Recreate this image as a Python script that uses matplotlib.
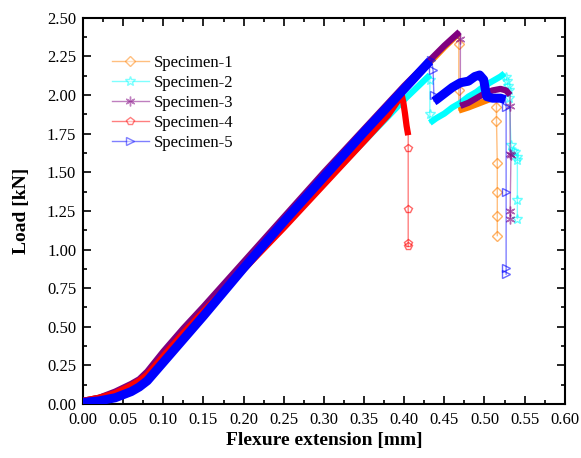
import numpy as np
import matplotlib
matplotlib.use('Agg')
import matplotlib.pyplot as plt
from matplotlib.lines import Line2D
from matplotlib.ticker import MultipleLocator, FormatStrFormatter

plt.rcParams['font.family'] = ['Liberation Serif', 'DejaVu Serif']
plt.rcParams['mathtext.fontset'] = 'stix'

labels = ['Specimen-1', 'Specimen-2', 'Specimen-3', 'Specimen-4', 'Specimen-5']

# Specimen-1
s1_rise_x = [0, 0.02, 0.04, 0.06, 0.07, 0.08, 0.10, 0.125, 0.15, 0.2, 0.25, 0.3, 0.35, 0.4, 0.45, 0.468]
s1_rise_y = [0.02, 0.04, 0.07, 0.12, 0.15, 0.20, 0.33, 0.48, 0.62, 0.91, 1.19, 1.48, 1.76, 2.04, 2.31, 2.40]
s1_drop1_x = [0.468, 0.468]
s1_drop1_y = [2.33, 2.03]
s1_tail_x = [0.468, 0.48, 0.49, 0.50, 0.51, 0.515]
s1_tail_y = [1.90, 1.92, 1.94, 1.96, 1.98, 1.99]
s1_drop2_x = [0.515, 0.515, 0.516, 0.516, 0.516, 0.516]
s1_drop2_y = [1.92, 1.83, 1.56, 1.37, 1.22, 1.09]

# Specimen-2
s2_rise_x = [0, 0.02, 0.04, 0.06, 0.07, 0.08, 0.10, 0.125, 0.15, 0.2, 0.25, 0.3, 0.35, 0.4, 0.432]
s2_rise_y = [0.01, 0.03, 0.06, 0.11, 0.14, 0.19, 0.31, 0.46, 0.60, 0.88, 1.16, 1.43, 1.70, 1.97, 2.13]
s2_drop1_x = [0.432, 0.432]
s2_drop1_y = [2.10, 1.88]
s2_tail_x = [0.432, 0.44, 0.45, 0.46, 0.47, 0.48, 0.49, 0.50, 0.51, 0.52, 0.525]
s2_tail_y = [1.82, 1.85, 1.88, 1.92, 1.95, 1.99, 2.02, 2.06, 2.09, 2.12, 2.14]
s2_drop2_x = [0.527, 0.528, 0.529, 0.530, 0.531, 0.533, 0.535, 0.538, 0.541, 0.541, 0.541, 0.541]
s2_drop2_y = [2.12, 2.09, 2.06, 2.03, 1.98, 1.68, 1.64, 1.63, 1.60, 1.58, 1.32, 1.20]

# Specimen-3
s3_rise_x = [0, 0.02, 0.04, 0.06, 0.07, 0.08, 0.10, 0.125, 0.15, 0.2, 0.25, 0.3, 0.35, 0.4, 0.45, 0.469]
s3_rise_y = [0.02, 0.04, 0.08, 0.13, 0.16, 0.21, 0.34, 0.49, 0.63, 0.92, 1.21, 1.50, 1.78, 2.06, 2.32, 2.41]
s3_drop1_x = [0.470]
s3_drop1_y = [2.36]
s3_tail_x = [0.470, 0.48, 0.49, 0.50, 0.51, 0.52, 0.527, 0.532]
s3_tail_y = [1.93, 1.95, 1.98, 2.01, 2.03, 2.04, 2.03, 2.00]
s3_drop2_x = [0.532, 0.532, 0.533, 0.532, 0.532]
s3_drop2_y = [1.93, 1.62, 1.61, 1.25, 1.20]

# Specimen-4
s4_rise_x = [0, 0.02, 0.04, 0.06, 0.07, 0.08, 0.10, 0.125, 0.15, 0.2, 0.25, 0.3, 0.35, 0.38, 0.397, 0.399, 0.401, 0.403, 0.405]
s4_rise_y = [0.02, 0.04, 0.07, 0.12, 0.15, 0.19, 0.31, 0.46, 0.60, 0.87, 1.14, 1.42, 1.70, 1.87, 2.00, 1.95, 1.88, 1.80, 1.74]
s4_drop_x = [0.405, 0.405, 0.405, 0.405]
s4_drop_y = [1.66, 1.26, 1.04, 1.02]

# Specimen-5
s5_rise_x = [0, 0.02, 0.04, 0.06, 0.07, 0.08, 0.10, 0.125, 0.15, 0.2, 0.25, 0.3, 0.35, 0.4, 0.432]
s5_rise_y = [0.01, 0.02, 0.04, 0.08, 0.11, 0.15, 0.27, 0.42, 0.57, 0.88, 1.18, 1.47, 1.76, 2.04, 2.22]
s5_drop1_x = [0.434, 0.436, 0.437]
s5_drop1_y = [2.23, 2.16, 2.00]
s5_tail_x = [0.437, 0.44, 0.45, 0.46, 0.47, 0.48, 0.488, 0.494, 0.499, 0.501, 0.503, 0.51, 0.52, 0.526]
s5_tail_y = [1.96, 1.97, 2.01, 2.05, 2.08, 2.09, 2.12, 2.13, 2.10, 2.04, 1.99, 1.98, 1.98, 1.97]
s5_drop2_x = [0.527, 0.527, 0.527, 0.527]
s5_drop2_y = [1.92, 1.37, 0.88, 0.84]

colors = ['#FF8000', '#00FFFF', '#800080', '#FF0000', '#0000FF']
markers = ['D', '*', (6, 2, 0), 'p', '>']
msizes = [5, 7, 7, 6, 6]

specimens = [
    ([(s1_rise_x, s1_rise_y), (s1_tail_x, s1_tail_y)],
     [(s1_drop1_x, s1_drop1_y), (s1_drop2_x, s1_drop2_y)]),
    ([(s2_rise_x, s2_rise_y), (s2_tail_x, s2_tail_y)],
     [(s2_drop1_x, s2_drop1_y), (s2_drop2_x, s2_drop2_y)]),
    ([(s3_rise_x, s3_rise_y), (s3_tail_x, s3_tail_y)],
     [(s3_drop1_x, s3_drop1_y), (s3_drop2_x, s3_drop2_y)]),
    ([(s4_rise_x, s4_rise_y)],
     [(s4_drop_x, s4_drop_y)]),
    ([(s5_rise_x, s5_rise_y), (s5_tail_x, s5_tail_y)],
     [(s5_drop1_x, s5_drop1_y), (s5_drop2_x, s5_drop2_y)]),
]
band_widths = [4.5, 4.5, 4.5, 4.5, 6.5]

fig = plt.figure(figsize=(5.81, 4.58), dpi=100)
ax = fig.add_axes([0.143, 0.118, 0.829, 0.843])

handles = []
for i, (bands, drops) in enumerate(specimens):
    c = colors[i]
    z = 2 + i
    # thin connecting line through the whole path
    path_x, path_y = [], []
    for k, (bx, by) in enumerate(bands):
        path_x += list(bx)
        path_y += list(by)
        if k < len(drops):
            path_x += list(drops[k][0])
            path_y += list(drops[k][1])
    ax.plot(path_x, path_y, color=c, lw=1, alpha=0.5, zorder=z)
    # dense data look like a thick band
    for bx, by in bands:
        ax.plot(bx, by, color=c, lw=band_widths[i], solid_capstyle='butt',
                solid_joinstyle='round', zorder=z)
    # sparse points after failure
    for dx, dy in drops:
        ax.plot(dx, dy, ls='none', marker=markers[i], ms=msizes[i], mfc='none',
                mec=c, mew=1, alpha=0.6, zorder=z + 0.5)
    handles.append(Line2D([], [], color=c, lw=1, alpha=0.5, marker=markers[i],
                          ms=msizes[i], mfc='white', mec=c, mew=1))

ax.set_xlim(0, 0.6)
ax.set_ylim(0, 2.5)
ax.xaxis.set_major_locator(MultipleLocator(0.05))
ax.xaxis.set_minor_locator(MultipleLocator(0.025))
ax.yaxis.set_major_locator(MultipleLocator(0.25))
ax.yaxis.set_minor_locator(MultipleLocator(0.125))
ax.xaxis.set_major_formatter(FormatStrFormatter('%.2f'))
ax.yaxis.set_major_formatter(FormatStrFormatter('%.2f'))
ax.tick_params(which='both', direction='in', top=True, right=True, labelsize=12, width=1.2)
ax.tick_params(which='major', length=6)
ax.tick_params(which='minor', length=3)
ax.tick_params(axis='x', pad=6)
ax.tick_params(axis='y', pad=5)
for s in ax.spines.values():
    s.set_linewidth(1.5)

ax.set_xlabel('Flexure extension [mm]', fontsize=14, fontweight='bold', labelpad=3)
ax.set_ylabel('Load [kN]', fontsize=14, fontweight='bold', labelpad=12)

ax.legend(handles, labels, loc='upper left', bbox_to_anchor=(0.06, 0.905), frameon=False,
          fontsize=12, borderpad=0, borderaxespad=0, handlelength=2.2,
          handletextpad=0.3, labelspacing=0.25, numpoints=1)

fig.savefig('out.png', dpi=100)
